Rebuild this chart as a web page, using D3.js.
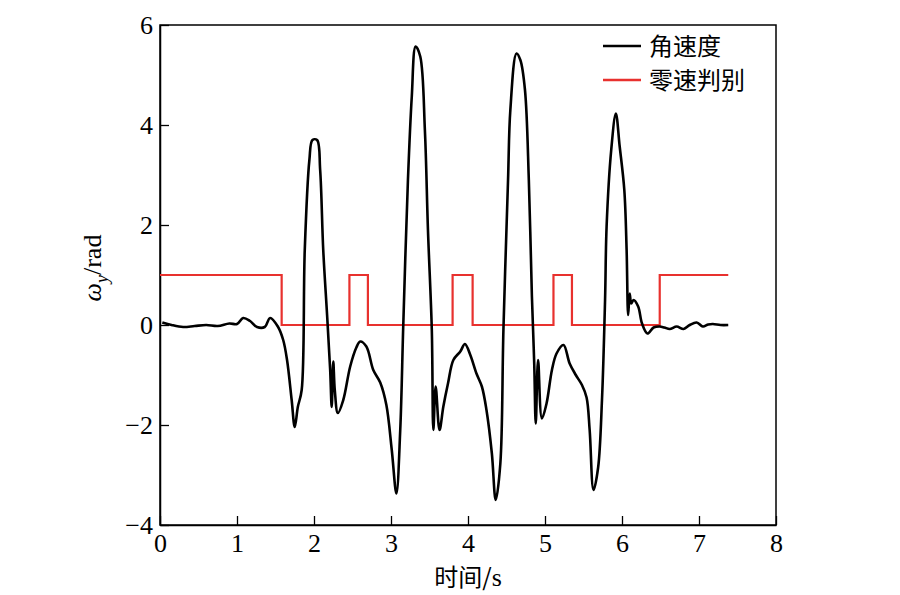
<!DOCTYPE html>
<html><head><meta charset="utf-8">
<script src="https://cdn.jsdelivr.net/npm/d3@7"></script>
<style>body{margin:0;background:#fff}svg{display:block}</style>
</head><body><svg id="c" width="900" height="595"></svg>
<script>
// angular velocity (black) samples: time [s], value [rad]
const angT = [0.03,0.15,0.3,0.45,0.6,0.75,0.9,1.0,1.08,1.17,1.26,1.36,1.43,1.53,1.60,1.65,1.71,1.75,1.79,1.84,1.88,1.94,1.98,2.04,2.08,2.12,2.17,2.21,2.23,2.25,2.27,2.31,2.38,2.47,2.55,2.60,2.68,2.77,2.86,2.94,3.01,3.07,3.12,3.16,3.22,3.27,3.32,3.38,3.44,3.48,3.53,3.55,3.58,3.63,3.68,3.74,3.81,3.90,3.96,4.03,4.11,4.18,4.24,4.31,4.36,4.42,4.46,4.52,4.55,4.63,4.68,4.74,4.79,4.83,4.86,4.88,4.91,4.96,5.02,5.09,5.15,5.24,5.32,5.40,5.48,5.54,5.58,5.63,5.69,5.74,5.78,5.80,5.86,5.92,5.97,6.03,6.06,6.08,6.10,6.12,6.15,6.21,6.26,6.33,6.41,6.49,6.55,6.62,6.71,6.80,6.88,6.97,7.05,7.12,7.18,7.28,7.38];
const angV = [0.05,0.0,-0.04,-0.02,0.0,-0.02,0.03,0.02,0.14,0.08,-0.04,-0.04,0.14,-0.03,-0.3,-0.7,-1.5,-2.04,-1.64,-1.3,1.5,3.3,3.7,3.7,3.1,1.5,0.2,-0.9,-1.64,-0.73,-1.3,-1.76,-1.5,-0.83,-0.45,-0.33,-0.43,-0.9,-1.15,-1.6,-2.5,-3.37,-2.1,0.03,2.9,4.57,5.57,5.37,3.9,1.9,-0.1,-2.1,-1.23,-2.1,-1.63,-1.17,-0.7,-0.53,-0.38,-0.6,-0.97,-1.23,-1.7,-2.57,-3.5,-2.77,-0.1,2.9,4.3,5.43,5.3,4.7,2.9,0.57,-0.77,-1.97,-0.7,-1.87,-1.57,-0.9,-0.57,-0.4,-0.77,-1.0,-1.2,-1.45,-2.1,-3.3,-2.85,-1.5,0.5,1.97,3.5,4.23,3.57,2.7,1.5,0.2,0.63,0.43,0.5,0.37,0.03,-0.17,-0.05,-0.03,-0.05,-0.08,-0.03,-0.08,0.0,0.05,-0.03,0.01,0.02,0.0,0.0];
// zero-velocity detection (red) step edges
const zvT = [0,1.58,1.58,2.46,2.46,2.70,2.70,3.80,3.80,4.06,4.06,5.11,5.11,5.35,5.35,6.49,6.49,7.38];
const zvV = [1,1,0,0,1,1,0,0,1,1,0,0,1,1,0,0,1,1];
const xTicks = [0,1,2,3,4,5,6,7,8];
const yTicks = [-4,-2,0,2,4,6];
const legendNames = ["角速度","零速判别"];
const legendColors = ["#000000","#e8312e"];

const svg = d3.select("#c");
const L=160,R=776,T=25,B=525;
const x = d3.scaleLinear().domain([0,8]).range([L,R]);
const y = d3.scaleLinear().domain([-4,6]).range([B,T]);
const serif = "'Liberation Serif','Times New Roman',serif";

// frame
svg.append("rect").attr("x",L).attr("y",T).attr("width",R-L).attr("height",B-T)
  .attr("fill","none").attr("stroke","#000").attr("stroke-width",1.5);

const gx = svg.append("g").attr("transform",`translate(0,${B})`)
  .call(d3.axisBottom(x).tickValues(xTicks).tickFormat(d3.format("d")).tickSizeInner(-9).tickSizeOuter(0).tickPadding(9));
const gy = svg.append("g").attr("transform",`translate(${L},0)`)
  .call(d3.axisLeft(y).tickValues(yTicks).tickFormat(d=>d<0?"\u2212"+Math.abs(d):d).tickSizeInner(-9).tickSizeOuter(0).tickPadding(7));
[gx,gy].forEach(g=>{
  g.select(".domain").attr("stroke","#000").attr("stroke-width",1.5);
  g.selectAll(".tick line").attr("stroke","#000").attr("stroke-width",1.3);
  g.selectAll("text").attr("font-family",serif).attr("font-size",26).attr("fill","#000");
});
gy.selectAll("text").attr("dy","0.32em");

// lines
const ang = angT.map((t,i)=>[t,angV[i]]);
const zv = zvT.map((t,i)=>[t,zvV[i]]);
const line = d3.line().x(d=>x(d[0])).y(d=>y(d[1]));
const smooth = d3.line().x(d=>x(d[0])).y(d=>y(d[1])).curve(d3.curveCatmullRom.alpha(0.5));
svg.append("path").attr("d",line(zv)).attr("fill","none").attr("stroke",legendColors[1]).attr("stroke-width",2.2);
svg.append("path").attr("d",smooth(ang)).attr("fill","none").attr("stroke",legendColors[0]).attr("stroke-width",2.6).attr("stroke-linejoin","round");

// legend
legendNames.forEach((n,i)=>{
  const yy = 46 + i*34;
  svg.append("line").attr("x1",603).attr("x2",641).attr("y1",yy).attr("y2",yy)
    .attr("stroke",legendColors[i]).attr("stroke-width",2.4);
  svg.append("text").attr("x",649).attr("y",yy).attr("dy","0.36em")
    .attr("font-family","'Noto Sans CJK SC'").attr("font-size",24).attr("fill","#000").text(n);
});

// axis labels
svg.append("text").attr("x",468).attr("y",586).attr("text-anchor","middle")
  .attr("font-family","'Noto Sans CJK SC'").attr("font-size",24).attr("fill","#000")
  .text("时间/")
  .append("tspan").attr("font-family",serif).attr("font-size",26).text("s");
const yl = svg.append("text").attr("transform","translate(101,268) rotate(-90)").attr("text-anchor","middle")
  .attr("font-family",serif).attr("font-size",26).attr("fill","#000");
yl.append("tspan").attr("font-style","italic").text("ω");
yl.append("tspan").attr("font-style","italic").attr("font-size",18).attr("dy",7).text("y");
yl.append("tspan").attr("dy",-7).text("/rad");
</script></body></html>
